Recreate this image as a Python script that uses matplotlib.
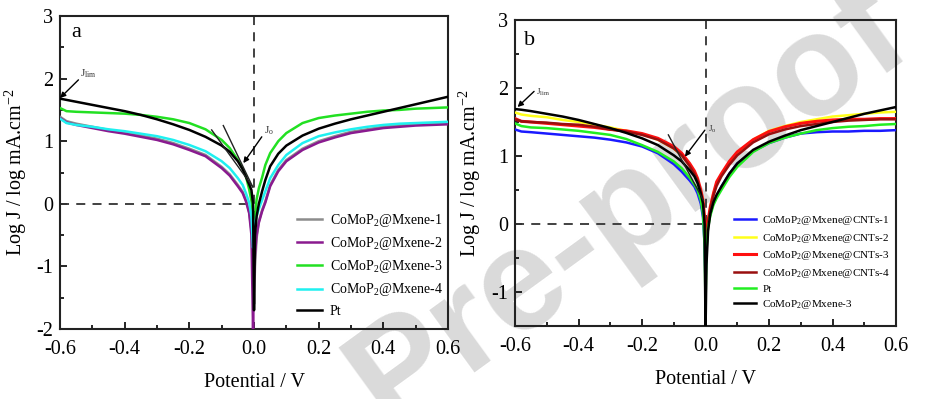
import matplotlib
matplotlib.use("Agg")
import matplotlib.pyplot as plt
from matplotlib.ticker import MultipleLocator

plt.rcParams['font.family'] = ['Liberation Serif', 'DejaVu Serif']
plt.rcParams['mathtext.fontset'] = 'custom'
plt.rcParams['mathtext.rm'] = 'Liberation Serif'
plt.rcParams['mathtext.it'] = 'Liberation Serif:italic'

# ---------------- data ----------------
potential = [-0.6, -0.58, -0.55, -0.5, -0.45, -0.4, -0.35, -0.3, -0.25, -0.2, -0.15, -0.1,
             -0.075, -0.05, -0.035, -0.025, -0.015, -0.008, -0.003, 0.0, 0.003, 0.008,
             0.015, 0.025, 0.035, 0.05, 0.075, 0.1, 0.15, 0.2, 0.25, 0.3, 0.35, 0.4,
             0.45, 0.5, 0.55, 0.6]

# panel a
a_mxene1 = [1.39, 1.32, 1.28, 1.23, 1.18, 1.14, 1.09, 1.04, 0.97, 0.88, 0.78, 0.59,
            0.47, 0.30, 0.19, 0.06, -0.13, -0.42, -1.0, -1.6, -1.0, -0.55,
            -0.28, -0.1, 0.04, 0.30, 0.54, 0.70, 0.88, 1.00, 1.08, 1.15, 1.19, 1.23,
            1.25, 1.27, 1.28, 1.29]
a_mxene2 = [1.37, 1.30, 1.26, 1.21, 1.16, 1.12, 1.07, 1.02, 0.95, 0.86, 0.76, 0.57,
            0.45, 0.28, 0.17, 0.04, -0.15, -0.5, -2.0, -1.2, -0.8, -0.5,
            -0.3, -0.12, 0.02, 0.28, 0.52, 0.68, 0.86, 0.98, 1.06, 1.13, 1.17, 1.21,
            1.23, 1.25, 1.26, 1.27]
a_mxene3 = [1.53, 1.48, 1.47, 1.46, 1.45, 1.44, 1.42, 1.39, 1.35, 1.29, 1.19, 1.02,
            0.89, 0.70, 0.56, 0.44, 0.23, 0.05, -0.2, -0.35, -0.2, 0.07,
            0.25, 0.42, 0.62, 0.81, 1.00, 1.13, 1.29, 1.37, 1.41, 1.44, 1.47, 1.49,
            1.50, 1.52, 1.53, 1.54]
a_mxene4 = [1.36, 1.29, 1.26, 1.23, 1.19, 1.16, 1.12, 1.08, 1.02, 0.94, 0.84, 0.68,
            0.57, 0.41, 0.30, 0.17, 0.02, -0.2, -0.7, -0.5, -0.3, -0.2,
            -0.08, 0.06, 0.20, 0.41, 0.62, 0.78, 0.97, 1.08, 1.14, 1.19, 1.23, 1.26,
            1.28, 1.29, 1.30, 1.31]
a_pt = [1.68, 1.66, 1.63, 1.58, 1.53, 1.48, 1.42, 1.35, 1.27, 1.18, 1.07, 0.93,
        0.83, 0.68, 0.55, 0.43, 0.31, 0.22, 0.0, -1.7, -0.5, -0.2,
        0.0, 0.2, 0.38, 0.60, 0.80, 0.93, 1.09, 1.20, 1.28, 1.35, 1.41, 1.47,
        1.53, 1.59, 1.65, 1.71]

# panel b
b_cnt1 = [1.39, 1.36, 1.35, 1.33, 1.31, 1.29, 1.27, 1.24, 1.20, 1.14, 1.04, 0.88,
          0.77, 0.64, 0.55, 0.45, 0.30, 0.10, -0.3, -0.9, -0.3, 0.0,
          0.15, 0.30, 0.40, 0.55, 0.74, 0.89, 1.07, 1.19, 1.27, 1.33, 1.35, 1.36,
          1.36, 1.37, 1.37, 1.38]
b_cnt2 = [1.64, 1.61, 1.59, 1.57, 1.53, 1.50, 1.46, 1.42, 1.37, 1.32, 1.24, 1.11,
          1.01, 0.87, 0.76, 0.65, 0.48, 0.30, 0.0, -0.3, -0.1, 0.0,
          0.25, 0.45, 0.60, 0.73, 0.90, 1.05, 1.24, 1.37, 1.44, 1.50, 1.54, 1.58,
          1.60, 1.62, 1.64, 1.65]
b_cnt3 = [1.55, 1.51, 1.50, 1.48, 1.46, 1.44, 1.42, 1.39, 1.37, 1.33, 1.26, 1.14,
          1.04, 0.89, 0.78, 0.67, 0.50, 0.35, 0.10, -0.2, -0.1, 0.05,
          0.25, 0.45, 0.62, 0.74, 0.92, 1.06, 1.24, 1.36, 1.43, 1.48, 1.51, 1.53,
          1.54, 1.54, 1.55, 1.55]
b_cnt4 = [1.54, 1.51, 1.50, 1.49, 1.47, 1.46, 1.43, 1.39, 1.36, 1.31, 1.24, 1.11,
          1.01, 0.85, 0.74, 0.64, 0.47, 0.30, 0.0, -0.5, -0.2, 0.0,
          0.22, 0.42, 0.56, 0.70, 0.87, 1.01, 1.20, 1.32, 1.39, 1.44, 1.47, 1.50,
          1.52, 1.53, 1.54, 1.54]
b_pt = [1.48, 1.44, 1.42, 1.41, 1.39, 1.37, 1.34, 1.31, 1.25, 1.16, 1.06, 0.92,
        0.82, 0.68, 0.58, 0.50, 0.35, 0.15, -0.3, -1.2, -0.4, -0.05,
        0.12, 0.28, 0.38, 0.50, 0.69, 0.84, 1.06, 1.19, 1.27, 1.33, 1.38, 1.41,
        1.43, 1.44, 1.46, 1.47]
b_mxene3 = [1.69, 1.68, 1.66, 1.62, 1.58, 1.53, 1.47, 1.41, 1.34, 1.26, 1.16, 1.01,
            0.92, 0.79, 0.70, 0.60, 0.45, 0.30, 0.0, -1.6, -0.6, -0.1,
            0.15, 0.32, 0.43, 0.55, 0.74, 0.89, 1.09, 1.21, 1.30, 1.38, 1.44, 1.50,
            1.56, 1.62, 1.67, 1.72]

labels_a = [r'CoMoP$_\mathrm{2}$@Mxene-1', r'CoMoP$_\mathrm{2}$@Mxene-2',
            r'CoMoP$_\mathrm{2}$@Mxene-3', r'CoMoP$_\mathrm{2}$@Mxene-4', 'Pt']
labels_b = [r'CoMoP$_\mathrm{2}$@Mxene@CNTs-1', r'CoMoP$_\mathrm{2}$@Mxene@CNTs-2',
            r'CoMoP$_\mathrm{2}$@Mxene@CNTs-3', r'CoMoP$_\mathrm{2}$@Mxene@CNTs-4',
            'Pt', r'CoMoP$_\mathrm{2}$@Mxene-3']
x_ticks = [-0.6, -0.4, -0.2, 0.0, 0.2, 0.4, 0.6]
x_ticklabels = ['-0.6', '-0.4', '-0.2', '0.0', '0.2', '0.4', '0.6']

colors_a = ['#8c8c8c', '#8a1a8f', '#22e022', '#1ff0f0', '#000000']
colors_b = ['#1a1aff', '#ffff1a', '#ff1010', '#990f0f', '#22ee22', '#000000']

# ---------------- figure ----------------
fig = plt.figure(figsize=(9.32, 3.99), dpi=100)
fig.text(0.675, 0.48, 'Pre-proof', family='Liberation Sans', fontsize=104,
         fontweight='bold', color='#dadada', rotation=36, ha='center', va='center',
         zorder=-5)

ax_a = fig.add_axes([0.0644, 0.1754, 0.4163, 0.7845])
ax_b = fig.add_axes([0.5526, 0.1830, 0.4088, 0.7669])

for ax in (ax_a, ax_b):
    ax.set_facecolor('none')

for vals, c, lab in zip([a_mxene1, a_mxene2, a_mxene3, a_mxene4, a_pt], colors_a, labels_a):
    ax_a.plot(potential, vals, color=c, lw=1.8, label=lab, zorder=3)
for vals, c, lab in zip([b_cnt1, b_cnt2, b_cnt3, b_cnt4, b_pt, b_mxene3], colors_b, labels_b):
    ax_b.plot(potential, vals, color=c, lw=2.2 if c == '#ff1010' else 1.8, label=lab, zorder=3)


def style(ax, ymin, ymax, yticks):
    ax.set_xlim(-0.6, 0.6)
    ax.set_ylim(ymin, ymax)
    ax.set_xticks(x_ticks)
    ax.set_xticklabels(x_ticklabels)
    ax.set_yticks(yticks)
    ax.set_yticklabels([str(t) for t in yticks])
    ax.xaxis.set_minor_locator(MultipleLocator(0.1))
    ax.yaxis.set_minor_locator(MultipleLocator(0.5))
    ax.tick_params(which='both', direction='in', top=False, right=False,
                   labelsize=14.5, width=1.2)
    ax.tick_params(axis='x', pad=8)
    ax.tick_params(axis='y', pad=5)
    ax.tick_params(which='major', length=5)
    ax.tick_params(which='minor', length=3)
    for s in ax.spines.values():
        s.set_linewidth(1.5)
        s.set_color('#222222')
    ax.set_xlabel('Potential / V', fontsize=14.5, labelpad=10)
    ax.set_ylabel(r'Log J / log mA.cm$^{\mathrm{-2}}$', fontsize=14.5, labelpad=0)
    ax.plot([-0.6, 0.0], [0, 0], ls=(0, (5, 4)), color='#333333', lw=1.3, zorder=2)
    ax.plot([0.0, 0.0], [ymax, -0.3], ls=(0, (5, 4)), color='#333333', lw=1.3, zorder=2)


style(ax_a, -2, 3, [-2, -1, 0, 1, 2, 3])
style(ax_b, -1.5, 3, [-1, 0, 1, 2, 3])
ax_a.yaxis.set_label_coords(-0.08, 0.5)
ax_b.yaxis.set_label_coords(-0.085, 0.5)

# tangent lines
ax_a.plot([-0.131, -0.004], [1.18, 0.27], color='#222222', lw=1.0, zorder=4)
ax_a.plot([-0.095, -0.004], [1.25, 0.27], color='#222222', lw=1.0, zorder=4)
ax_b.plot([-0.117, -0.007], [1.31, 0.35], color='#222222', lw=1.0, zorder=4)

arrow = dict(arrowstyle='-|>', color='black', lw=1.0, mutation_scale=8, shrinkA=0, shrinkB=0)
ax_a.annotate('', xy=(-0.6, 1.69), xytext=(-0.543, 1.98), arrowprops=arrow)
ax_a.text(-0.538, 2.03, r'J$_{\mathrm{lim}}$', fontsize=8, color='#333333')
ax_a.annotate('', xy=(-0.033, 0.65), xytext=(0.024, 1.07), arrowprops=arrow)
ax_a.text(0.03, 1.13, r'J$_{\mathrm{o}}$', fontsize=8, color='#333333')
ax_b.annotate('', xy=(-0.592, 1.72), xytext=(-0.54, 1.95), arrowprops=arrow)
ax_b.text(-0.535, 1.9, r'J$_{\mathrm{lim}}$', fontsize=6.5, color='#333333')
ax_b.annotate('', xy=(-0.065, 0.99), xytext=(-0.002, 1.38), arrowprops=arrow)
ax_b.text(0.008, 1.36, r'J$_{\mathrm{o}}$', fontsize=6.5, color='#333333')

ax_a.text(-0.565, 2.73, 'a', fontsize=16, va='center')
ax_b.text(-0.572, 2.7, 'b', fontsize=16, va='center')

ax_a.legend(loc='upper left', bbox_to_anchor=(0.61, 0.375), frameon=False, fontsize=10,
            handlelength=1.8, handletextpad=0.6, labelspacing=0.45, borderpad=0,
            borderaxespad=0)
ax_b.legend(loc='upper left', bbox_to_anchor=(0.575, 0.365), frameon=False, fontsize=8,
            handlelength=2.0, handletextpad=0.55, labelspacing=0.4, borderpad=0,
            borderaxespad=0)

fig.savefig('out.png', dpi=100)
